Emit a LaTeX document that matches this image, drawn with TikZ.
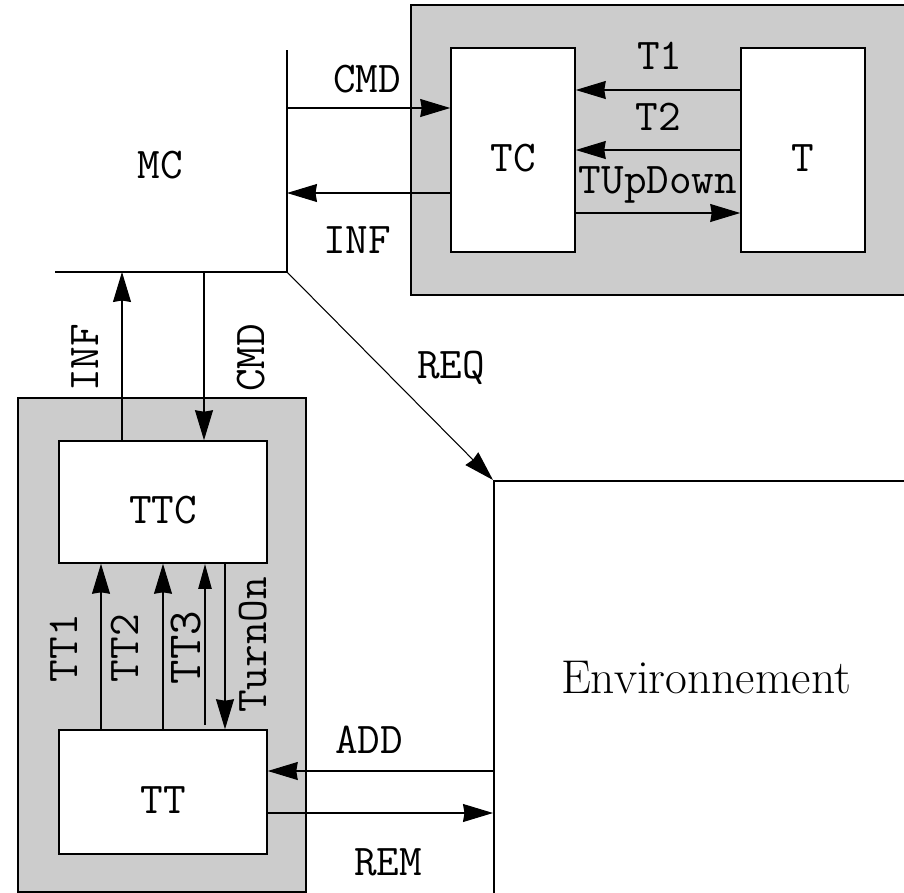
\documentclass[tikz,border=0pt]{standalone}
\usetikzlibrary{arrows.meta}
\begin{document}
\begin{tikzpicture}[x=0.02cm,y=-0.02cm,
  lbl/.style={font=\ttfamily\fontsize{25}{30}\selectfont,inner sep=1pt},
  blk/.style={draw,line width=0.9pt,fill=white,font=\ttfamily\fontsize{25}{30}\selectfont,text height=24pt,text depth=0pt},
  grp/.style={draw,line width=0.9pt,fill=black!20},
  sig/.style={line width=0.6pt,-{Stealth[length=6mm,width=3.6mm,inset=0.3mm]}}]
\clip (0,0) rectangle (904,893);
% groups
\draw[grp] (411,5) rectangle (920,295);
\draw[grp] (18,398) rectangle (306,892);
% blocks
\node[blk,minimum width=2.48cm,minimum height=4.08cm] (tc) at (513,150) {TC};
\node[blk,minimum width=2.48cm,minimum height=4.08cm] (t) at (803,150) {T};
\node[blk,minimum width=4.16cm,minimum height=2.44cm] (ttc) at (163,502) {TTC};
\node[blk,minimum width=4.16cm,minimum height=2.48cm] (tt) at (163,792) {TT};
\node[blk,minimum width=8.6cm,minimum height=8.8cm,anchor=north west] (env) at (493,480) {};
\node[font=\fontsize{27}{32}\selectfont] (envtxt) at (706,678) {Environnement};
% MC
\node[lbl] (mc) at (160,165) {MC};
\coordinate (mctop) at (287,50);
\coordinate (mccorner) at (287,272);
\coordinate (mcleft) at (55,272);
\draw[line width=0.6pt] (mctop) -- (mccorner) -- (mcleft);
% signals
\draw[sig] (287,108) -- (tc.west |- 0,108) node[lbl,pos=0.49,above=7pt] {CMD};
\draw[sig] (tc.west |- 0,193) -- (287,193) node[lbl,pos=0.57,below=18pt] {INF};
\draw[sig] (t.west |- 0,90) -- (tc.east |- 0,90) node[lbl,pos=0.49,above=10.5pt] {T1};
\draw[sig] (t.west |- 0,150) -- (tc.east |- 0,150) node[lbl,midway,above=9.8pt] {T2};
\draw[sig] (tc.east |- 0,213) -- (t.west |- 0,213) node[lbl,midway,above=4.4pt] {TUpDown};
\draw[sig] (mccorner) -- (env.north west) node[lbl,pos=0.46,right=18.8pt] {REQ};
\draw[sig] (ttc.north -| 122,0) -- (122,272) node[lbl,rotate=90,pos=0.49,above=11.8pt] {INF};
\draw[sig] (204,272) -- (ttc.north -| 204,0) node[lbl,rotate=90,pos=0.51,below=17.4pt] {CMD};
\draw[sig] (tt.north -| 101,0) -- (ttc.south -| 101,0) node[lbl,rotate=90,pos=0.49,above=11.8pt] {TT1};
\draw[sig] (tt.north -| 163,0) -- (ttc.south -| 163,0) node[lbl,rotate=90,pos=0.49,above=12.9pt] {TT2};
\draw[line width=1.3pt,-{Triangle[length=5mm,width=2.6mm]}] (205,725) -- (ttc.south -| 205,0) node[lbl,rotate=90,pos=0.48,above=0.5pt,font=\ttfamily\fontsize{27}{32}\selectfont] {TT3};
\draw[sig] (ttc.south -| 225,0) -- (tt.north -| 225,0) node[lbl,rotate=90,pos=0.49,below=6.7pt] {TurnOn};
\draw[sig] (env.west |- 0,771) -- (tt.east |- 0,771) node[lbl,pos=0.55,above=8.9pt] {ADD};
\draw[sig] (tt.east |- 0,813) -- (env.west |- 0,813) node[lbl,pos=0.535,below=19pt] {REM};
\end{tikzpicture}
\end{document}
